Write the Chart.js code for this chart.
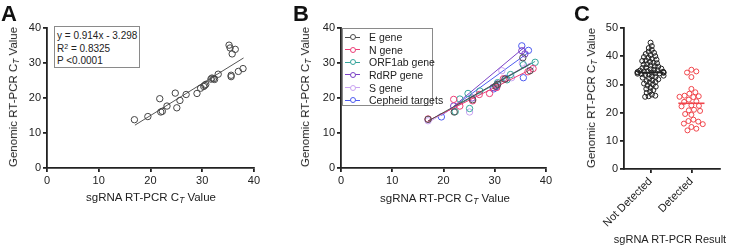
<!DOCTYPE html>
<html>
<head>
<meta charset="utf-8">
<script src="https://cdn.jsdelivr.net/npm/chart.js@4"></script>
<style>
  html, body { margin: 0; padding: 0; background: #fff; }
  body { width: 729px; height: 248px; position: relative; overflow: hidden;
         font-family: 'Liberation Sans', Arial, sans-serif; color: #222; }
  canvas { position: absolute; top: 0; }
  .letter { position: absolute; font-weight: bold; font-size: 22px; line-height: 22px; color: #111; }
  .title { position: absolute; font-size: 11.5px; white-space: nowrap; transform: translate(-50%, -50%); }
  .title.rot { transform: translate(-50%, -50%) rotate(-90deg); }
  .title sub { font-size: 0.72em; font-style: italic; vertical-align: -0.25em; }
  .box { position: absolute; border: 1px solid #8a8a8a; background: #fff; font-size: 10px; box-sizing: border-box; white-space: nowrap; }
  .box sup { font-size: 0.7em; vertical-align: 0.5em; line-height: 0; }
  .leg-row { height: 12.66px; line-height: 12.66px; white-space: nowrap; }
  .ico { display: inline-block; position: relative; width: 15px; height: 10px; margin: 0 9px 0 2px; vertical-align: -1px; }
  .ico::before { content: ''; position: absolute; left: 0; right: 0; top: 4.5px; border-top: 1px solid var(--c); }
  .ico::after { content: ''; position: absolute; left: 4.5px; top: 2px; width: 4px; height: 4px; border: 1px solid var(--c); border-radius: 50%; background: #fff; }
</style>
</head>
<body>
<canvas id="chartA" width="262" height="248" style="left:0"></canvas>
<canvas id="chartB" width="292" height="248" style="left:262px"></canvas>
<canvas id="chartC" width="169" height="248" style="left:560px"></canvas>

<div class="letter" style="left:1px;top:3px">A</div>
<div class="letter" style="left:293px;top:3px">B</div>
<div class="letter" style="left:574px;top:3px">C</div>

<div class="title rot" style="left:14px;top:97px">Genomic RT-PCR C<sub>T</sub> Value</div>
<div class="title" style="left:151px;top:198px">sgRNA RT-PCR C<sub>T</sub> Value</div>
<div class="title rot" style="left:306px;top:97px">Genomic RT-PCR C<sub>T</sub> Value</div>
<div class="title" style="left:445px;top:199px">sgRNA RT-PCR C<sub>T</sub> Value</div>
<div class="title rot" style="left:592px;top:98px">Genomic RT-PCR C<sub>T</sub> Value</div>
<div class="title" style="left:670px;top:239px;font-size:11px">sgRNA RT-PCR Result</div>

<div class="box" style="left:54px;top:26px;width:86px;height:42px;padding:3px 0 0 2px;line-height:12.5px">
  <div>y = 0.914x - 3.298</div>
  <div>R<sup>2</sup> = 0.8325</div>
  <div>P &lt;0.0001</div>
</div>

<div class="box" id="legendB" style="left:342px;top:28px;width:91px;height:78px;padding-top:2px;font-size:10.5px"></div>

<script>
// ---- Panel A: sgRNA vs genomic Ct ----
const aSgrna   = [16.9, 19.5, 21.8, 22.0, 22.3, 23.2, 24.8, 25.1, 25.7, 26.9, 29.0, 29.7, 30.3, 30.5, 30.7,
                  31.7, 31.9, 32.2, 32.4, 33.1, 35.2, 35.4, 35.8, 36.4, 35.6, 35.6, 37.0, 37.9];
const aGenomic = [13.8, 14.7, 19.8, 16.0, 16.2, 17.7, 21.4, 17.2, 19.3, 21.0, 21.3, 22.8, 23.3, 23.6, 23.9,
                  25.4, 25.7, 25.5, 25.3, 26.8, 35.1, 34.3, 32.6, 33.9, 26.5, 26.1, 27.6, 28.4];
const aFit = [0.914, -3.298];      // slope, intercept
const aFitRange = [17, 38];

// ---- Panel B: per-target series ----
const geneNames  = ['E gene', 'N gene', 'ORF1ab gene', 'RdRP gene', 'S gene', 'Cepheid targets'];
const geneColors = ['#4d4d4d', '#ec3f78', '#36a59c', '#7b42c6', '#c9a3f2', '#4e5cf0'];
const eGeneX    = [17.0, 22.1, 25.7, 30.2, 30.6, 32.0, 35.5, 36.9];
const eGeneY    = [13.9, 16.0, 19.5, 23.4, 23.9, 25.4, 31.5, 27.8];
const nGeneX    = [17.0, 22.0, 23.2, 25.7, 27.0, 29.0, 30.4, 31.7, 36.5, 37.5];
const nGeneY    = [14.0, 19.6, 17.7, 19.2, 21.0, 21.3, 23.0, 25.5, 27.5, 28.4];
const orfGeneX  = [22.3, 23.2, 24.8, 25.1, 27.1, 30.6, 32.4, 33.1, 35.6, 37.9];
const orfGeneY  = [16.1, 19.7, 21.3, 17.0, 22.0, 24.4, 25.2, 26.7, 29.5, 30.2];
const rdrpGeneX = [22.0, 25.6, 29.7, 30.5, 35.3, 35.9];
const rdrpGeneY = [17.7, 20.0, 23.0, 24.0, 33.5, 32.6];
const sGeneX    = [17.0, 25.1, 31.4, 33.3, 35.4, 37.0];
const sGeneY    = [13.5, 16.0, 27.8, 25.8, 30.0, 29.0];
const cephX     = [19.6, 29.8, 30.4, 32.2, 35.3, 36.6, 35.6];
const cephY     = [14.6, 22.6, 23.3, 25.6, 34.9, 33.6, 25.8];
const geneX = [eGeneX, nGeneX, orfGeneX, rdrpGeneX, sGeneX, cephX];
const geneY = [eGeneY, nGeneY, orfGeneY, rdrpGeneY, sGeneY, cephY];
const fitSlopes     = [0.82, 0.73, 0.83, 1.22, 0.85, 1.06];
const fitIntercepts = [-0.54, 1.1, -1.0, -9.2, -1.45, -5.8];
const fitRanges     = [[17, 37], [17, 37.5], [22.3, 37.9], [22, 35.9], [17, 37], [19.6, 36.6]];

// ---- Panel C: genomic Ct by sgRNA result ----
const groupLabels = ['Not Detected', 'Detected'];
const notDetected = [44.8, 43.6, 42.9, 42.2, 41.6, 41.2, 40.8, 40.4, 40.0, 39.7, 39.4, 39.1, 38.8, 38.5, 38.3,
                     38.0, 37.7, 37.5, 37.2, 37.0, 36.7, 36.5, 36.3, 36.0, 35.8, 35.6, 35.4, 35.2, 35.0, 34.9,
                     34.7, 34.6, 34.5, 34.4, 34.3, 34.2, 34.2, 34.1, 34.0, 33.9, 33.8, 33.7, 33.5, 33.3, 33.1,
                     32.9, 32.6, 32.4, 32.1, 31.8, 31.5, 31.2, 30.9, 30.6, 30.3, 30.0, 29.6, 29.2, 28.8, 28.4,
                     28.0, 27.5, 27.0, 26.4, 26.0, 25.8, 25.6];
const detected = [35.2, 34.6, 34.2, 32.6, 28.4, 27.2, 26.7, 26.0, 25.8, 25.6, 25.5, 24.6, 24.0, 23.8, 22.6,
                  22.4, 22.2, 21.0, 20.8, 20.6, 19.5, 19.2, 17.5, 17.0, 16.8, 16.1, 15.9, 14.9, 14.3, 13.7];
const groupMedians = [34.2, 23.3];
const groupColors = ['#222222', '#f0454b'];

Chart.defaults.font.family = "'Liberation Sans', Arial, sans-serif";
Chart.defaults.color = '#222';

function axis(min, max, step, fixedSize, isY) {
  return {
    type: 'linear', min, max,
    ticks: { stepSize: step, font: { size: 11 }, color: '#222', padding: 2 },
    grid: { drawOnChartArea: false, drawTicks: true, tickLength: 4, color: '#222', lineWidth: 1.8 },
    border: { color: '#222', width: 1.8 },
    afterFit(scale) { if (isY) scale.width = fixedSize; else scale.height = fixedSize; },
  };
}

const basePlugins = { legend: { display: false }, tooltip: { enabled: false } };

// Panel A
new Chart(document.getElementById('chartA'), {
  type: 'scatter',
  data: {
    datasets: [
      {
        data: aSgrna.map((x, i) => ({ x, y: aGenomic[i] })),
        pointRadius: 3.2, borderColor: '#444', backgroundColor: 'rgba(0,0,0,0)', borderWidth: 1,
      },
      {
        type: 'line',
        data: aFitRange.map(x => ({ x, y: aFit[0] * x + aFit[1] })),
        borderColor: '#555', borderWidth: 1, pointRadius: 0,
      },
    ],
  },
  options: {
    responsive: false, animation: false, devicePixelRatio: 1,
    layout: { padding: { top: 28, right: 5, left: 0, bottom: 0 } },
    scales: { x: axis(0, 40, 10, 80, false), y: axis(0, 40, 10, 47, true) },
    plugins: basePlugins,
  },
});

// Panel B
const bDatasets = [];
geneNames.forEach((name, g) => {
  bDatasets.push({
    label: name,
    data: geneX[g].map((x, i) => ({ x, y: geneY[g][i] })),
    pointRadius: 3.2, borderColor: geneColors[g], backgroundColor: 'rgba(0,0,0,0)', borderWidth: 1,
  });
  bDatasets.push({
    type: 'line',
    data: fitRanges[g].map(x => ({ x, y: fitSlopes[g] * x + fitIntercepts[g] })),
    borderColor: geneColors[g], borderWidth: 1, pointRadius: 0,
  });
});
new Chart(document.getElementById('chartB'), {
  type: 'scatter',
  data: { datasets: bDatasets },
  options: {
    responsive: false, animation: false, devicePixelRatio: 1,
    layout: { padding: { top: 28, right: 5, left: 0, bottom: 0 } },
    scales: { x: axis(0, 40, 10, 80, false), y: axis(0, 40, 10, 79, true) },
    plugins: basePlugins,
  },
});

const legendB = document.getElementById('legendB');
geneNames.forEach((name, g) => {
  const row = document.createElement('div');
  row.className = 'leg-row';
  row.innerHTML = '<span class="ico" style="--c:' + geneColors[g] + '"></span>' + name;
  legendB.appendChild(row);
});

// Panel C
const groups = [notDetected, detected];
const cDatasets = groups.map((vals, g) => ({
  data: vals.map(v => ({ x: g, y: v })),
  pointRadius: 2.5, borderColor: groupColors[g], backgroundColor: 'rgba(0,0,0,0)', borderWidth: 1,
}));
groupMedians.forEach((m, g) => {
  cDatasets.push({
    type: 'line',
    data: [{ x: g - 0.32, y: m }, { x: g + 0.32, y: m }],
    borderColor: groupColors[g], borderWidth: 1.6, pointRadius: 0,
  });
});
const xC = axis(-0.65, 1.7, 1, 79, false);
xC.afterBuildTicks = scale => { scale.ticks = [{ value: 0 }, { value: 1 }]; };
xC.ticks.callback = v => groupLabels[v];
xC.ticks.maxRotation = 45;
xC.ticks.minRotation = 45;
xC.ticks.autoSkip = false;
const chartC = new Chart(document.getElementById('chartC'), {
  type: 'scatter',
  data: { datasets: cDatasets },
  options: {
    responsive: false, animation: false, devicePixelRatio: 1,
    layout: { padding: { top: 28, right: 9, left: 0, bottom: 0 } },
    scales: { x: xC, y: axis(0, 50, 10, 64, true) },
    plugins: basePlugins,
  },
});

// beeswarm spread of points around each group centre (circles may overlap a little)
function swarm(chart, g, vals, d, maxHalf) {
  const xs = chart.scales.x, ys = chart.scales.y;
  const pxPerUnit = xs.getPixelForValue(1) - xs.getPixelForValue(0);
  const placed = [];
  const out = [];
  vals.forEach(v => {
    const py = ys.getPixelForValue(v);
    const near = placed.filter(p => Math.abs(p.y - py) < d);
    const cands = [0];
    near.forEach(p => {
      const dx = Math.sqrt(d * d - (p.y - py) * (p.y - py));
      cands.push(p.x + dx, p.x - dx);
    });
    cands.sort((a, b) => Math.abs(a) - Math.abs(b));
    let ok = cands.find(c => near.every(p => (c - p.x) ** 2 + (py - p.y) ** 2 >= d * d - 0.01));
    ok = Math.max(-maxHalf, Math.min(maxHalf, ok));
    placed.push({ x: ok, y: py });
    out.push({ x: g + ok / pxPerUnit, y: v });
  });
  chart.data.datasets[g].data = out;
}
swarm(chartC, 0, notDetected, 3.6, 13);
swarm(chartC, 1, detected, 5.2, 12);
chartC.update('none');
</script>
</body>
</html>
